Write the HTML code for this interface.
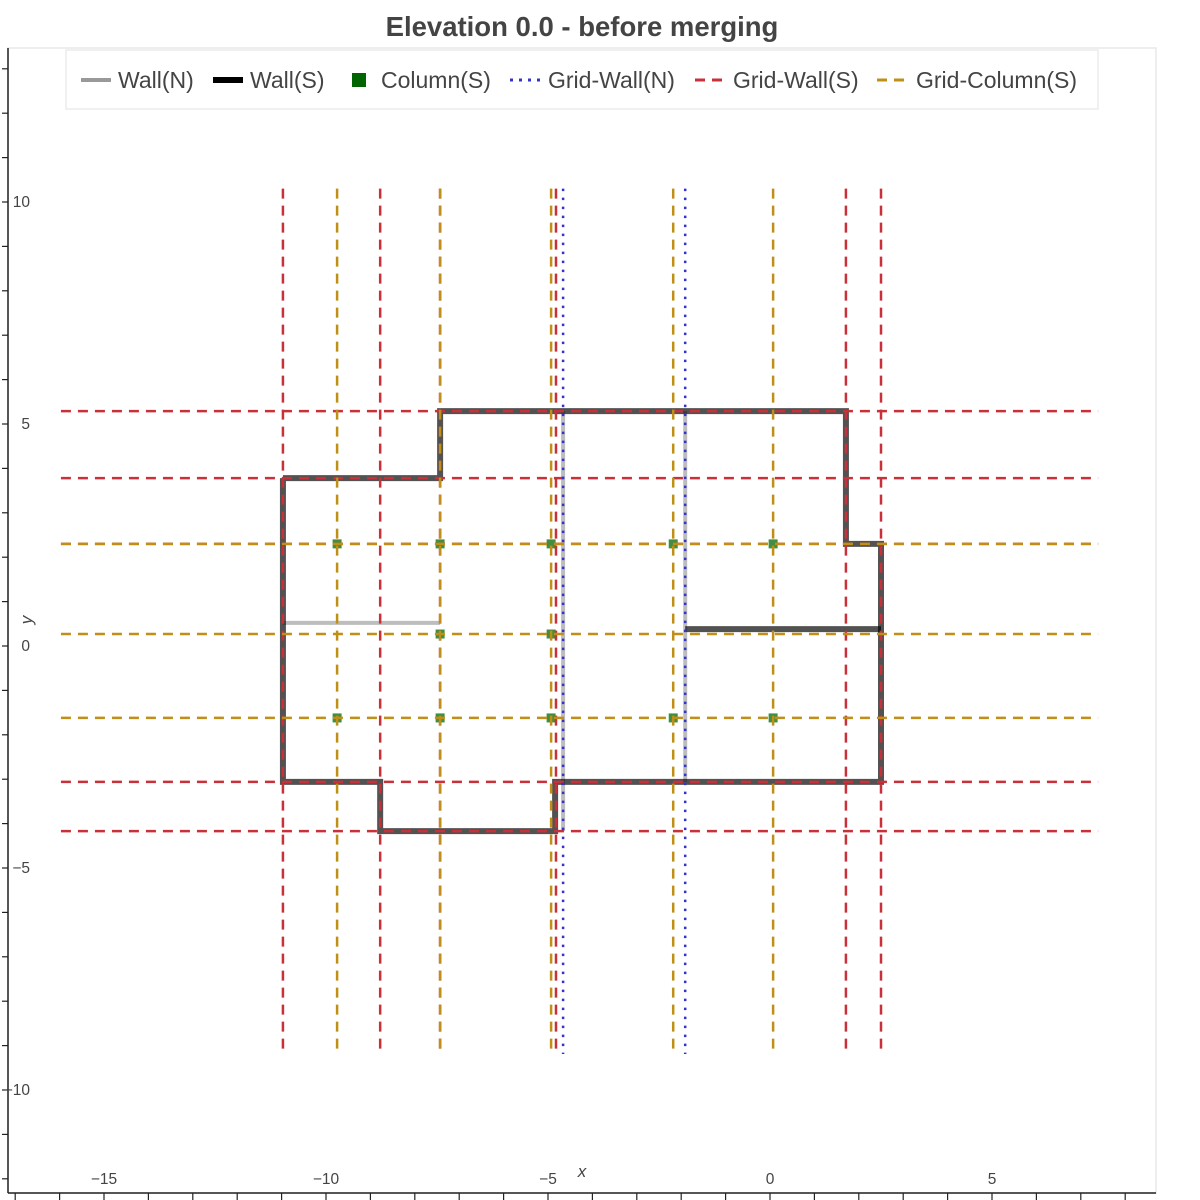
<!DOCTYPE html>
<html><head><meta charset="utf-8"><style>
html,body{margin:0;padding:0;background:#fff;}
svg{display:block;font-family:"Liberation Sans",sans-serif;}
</style></head><body>
<svg id="chart" width="1200" height="1200" viewBox="0 0 1200 1200" xmlns="http://www.w3.org/2000/svg">
<text x="582" y="36" text-anchor="middle" font-size="27.5" font-weight="bold" fill="#444">Elevation 0.0 - before merging</text>
<rect x="8" y="48" width="1148" height="1145" fill="none" stroke="#e8e8e8" stroke-width="1.5"/>
<g id="marks"></g>
<g id="axes"></g>
<g>
<rect x="66" y="50" width="1032" height="59" fill="#fff" stroke="#ececec" stroke-width="1.5"/>
<g><line x1="81" y1="80" x2="111" y2="80" stroke="#999" stroke-width="4"/><text x="118" y="88" font-size="23" fill="#444">Wall(N)</text></g>
<g><line x1="213" y1="80" x2="243" y2="80" stroke="#000" stroke-width="6"/><text x="250" y="88" font-size="23" fill="#444">Wall(S)</text></g>
<g><rect x="352" y="73" width="14" height="14" fill="#006400"/><text x="381" y="88" font-size="23" fill="#444">Column(S)</text></g>
<g><line x1="510" y1="80" x2="540" y2="80" stroke="#3333cc" stroke-width="3" stroke-dasharray="3,6"/><text x="548" y="88" font-size="23" fill="#444">Grid-Wall(N)</text></g>
<g><line x1="695" y1="80" x2="723" y2="80" stroke="#c8313a" stroke-width="3" stroke-dasharray="10,7"/><text x="733" y="88" font-size="23" fill="#444">Grid-Wall(S)</text></g>
<g><line x1="877" y1="80" x2="905" y2="80" stroke="#bf8f17" stroke-width="3" stroke-dasharray="10,7"/><text x="916" y="88" font-size="23" fill="#444">Grid-Column(S)</text></g>
</g>
<text x="582" y="1177" text-anchor="middle" font-size="17" font-style="italic" fill="#444">x</text>
<text x="32" y="620" text-anchor="middle" font-size="17" font-style="italic" fill="#444" transform="rotate(-90 32 620)">y</text>
</svg>
<script>
const xTicks = [-15, -10, -5, 0, 5];
const yTicks = [10, 5, 0, -5, -10];
const gridWallSX = [-10.97, -8.78, -7.43, -4.82, 1.71, 2.5];
const gridWallSY = [5.29, 3.78, 2.3, -3.06, -4.17];
const gridColX = [-9.75, -7.43, -4.93, -2.18, 0.07];
const gridColY = [2.3, 0.27, -1.62];
const gridWallNX = [-4.66, -1.91];
const colX = [-9.75, -7.43, -4.93, -2.18, 0.07, -7.43, -4.93, -9.75, -7.43, -4.93, -2.18, 0.07];
const colY = [2.3, 2.3, 2.3, 2.3, 2.3, 0.27, 0.27, -1.62, -1.62, -1.62, -1.62, -1.62];
const wallNX = [[-10.97, -7.43], [-4.66, -4.66], [-1.91, -1.91]];
const wallNY = [[0.52, 0.52], [5.29, -4.17], [5.29, -3.06]];
const wallSX = [[-10.97, -7.43, -7.43, 1.71, 1.71, 2.5, 2.5, -4.84, -4.84, -8.78, -8.78, -10.97, -10.97], [-1.91, 2.5]];
const wallSY = [[3.78, 3.78, 5.29, 5.29, 2.3, 2.3, -3.06, -3.06, -4.17, -4.17, -3.06, -3.06, 3.78], [0.38, 0.38]];
const gridVRange = [10.3, -9.19];
const gridHRange = [-15.97, 7.39];

const sx = v => 770 + 44.4 * v;
const sy = v => 646 - 44.4 * v;
const NS = "http://www.w3.org/2000/svg";
const marks = document.getElementById('marks');
const axes = document.getElementById('axes');
function mk(tag, attrs, parent) {
  const e = document.createElementNS(NS, tag);
  for (const k in attrs) e.setAttribute(k, attrs[k]);
  parent.appendChild(e);
  return e;
}
wallNX.forEach((xs, i) => {
  const p = mk('polyline', {points: xs.map((x, j) => sx(x) + ',' + sy(wallNY[i][j])).join(' '), fill: 'none', stroke: '#bdbdbd', 'stroke-width': 4}, marks);
  
  
});
wallSX.forEach((xs, i) => {
  const p = mk('polyline', {points: xs.map((x, j) => sx(x) + ',' + sy(wallSY[i][j])).join(' '), fill: 'none', stroke: '#000', 'stroke-opacity': 0.68, 'stroke-width': 6, 'stroke-linejoin': 'miter'}, marks);
  
  
});
colX.forEach((x, i) => {
  const r = mk('rect', {x: sx(x) - 4.5, y: sy(colY[i]) - 4.5, width: 9, height: 9, fill: '#1f7a1f', 'fill-opacity': 0.85}, marks);
  
  
});
function vline(x, color, dash, name) {
  const l = mk('line', {x1: sx(x), x2: sx(x), y1: sy(gridVRange[0]), y2: sy(gridVRange[1]), stroke: color, 'stroke-width': 2.5, 'stroke-dasharray': dash}, marks);
  
  
}
function hline(y, color, dash, name) {
  const l = mk('line', {x1: sx(gridHRange[0]), x2: sx(gridHRange[1]), y1: sy(y), y2: sy(y), stroke: color, 'stroke-width': 2.5, 'stroke-dasharray': dash}, marks);
  
  
}
gridWallSX.forEach(x => vline(x, '#c8313a', '10,7', 'grid-wall-s-vertical'));
gridWallSY.forEach(y => hline(y, '#c8313a', '10,7', 'grid-wall-s-horizontal'));
gridColX.forEach(x => vline(x, '#bf8f17', '10,7', 'grid-column-vertical'));
gridColY.forEach(y => hline(y, '#bf8f17', '10,7', 'grid-column-horizontal'));
gridWallNX.forEach(x => vline(x, '#3333cc', '2.5,6.5', 'grid-wall-n-vertical'));

const la = mk('line', {x1: 8, x2: 8, y1: 48, y2: 1193, stroke: '#222', 'stroke-width': 1.5}, axes);


const ba = mk('line', {x1: 8, x2: 1156, y1: 1193, y2: 1193, stroke: '#222', 'stroke-width': 1.5}, axes);


for (let v = -12; v <= 13; v++) {
  const t = mk('line', {x1: 2, x2: 8, y1: sy(v), y2: sy(v), stroke: '#222', 'stroke-width': 1.2}, axes);
  
  
}
for (let v = -17; v <= 8; v++) {
  const t = mk('line', {x1: sx(v), x2: sx(v), y1: 1193, y2: 1200, stroke: '#222', 'stroke-width': 1.2}, axes);
  
  
}
yTicks.forEach(v => {
  const t = mk('text', {x: 30, y: sy(v) + 5, 'text-anchor': 'end', 'font-size': 15.5, fill: '#444'}, axes);
  t.textContent = v < 0 ? '\u2212' + Math.abs(v) : String(v);
  
  
});
xTicks.forEach(v => {
  const t = mk('text', {x: sx(v), y: 1184, 'text-anchor': 'middle', 'font-size': 15.5, fill: '#444'}, axes);
  t.textContent = v < 0 ? '\u2212' + Math.abs(v) : String(v);
  
  
});
</script>
</body></html>
